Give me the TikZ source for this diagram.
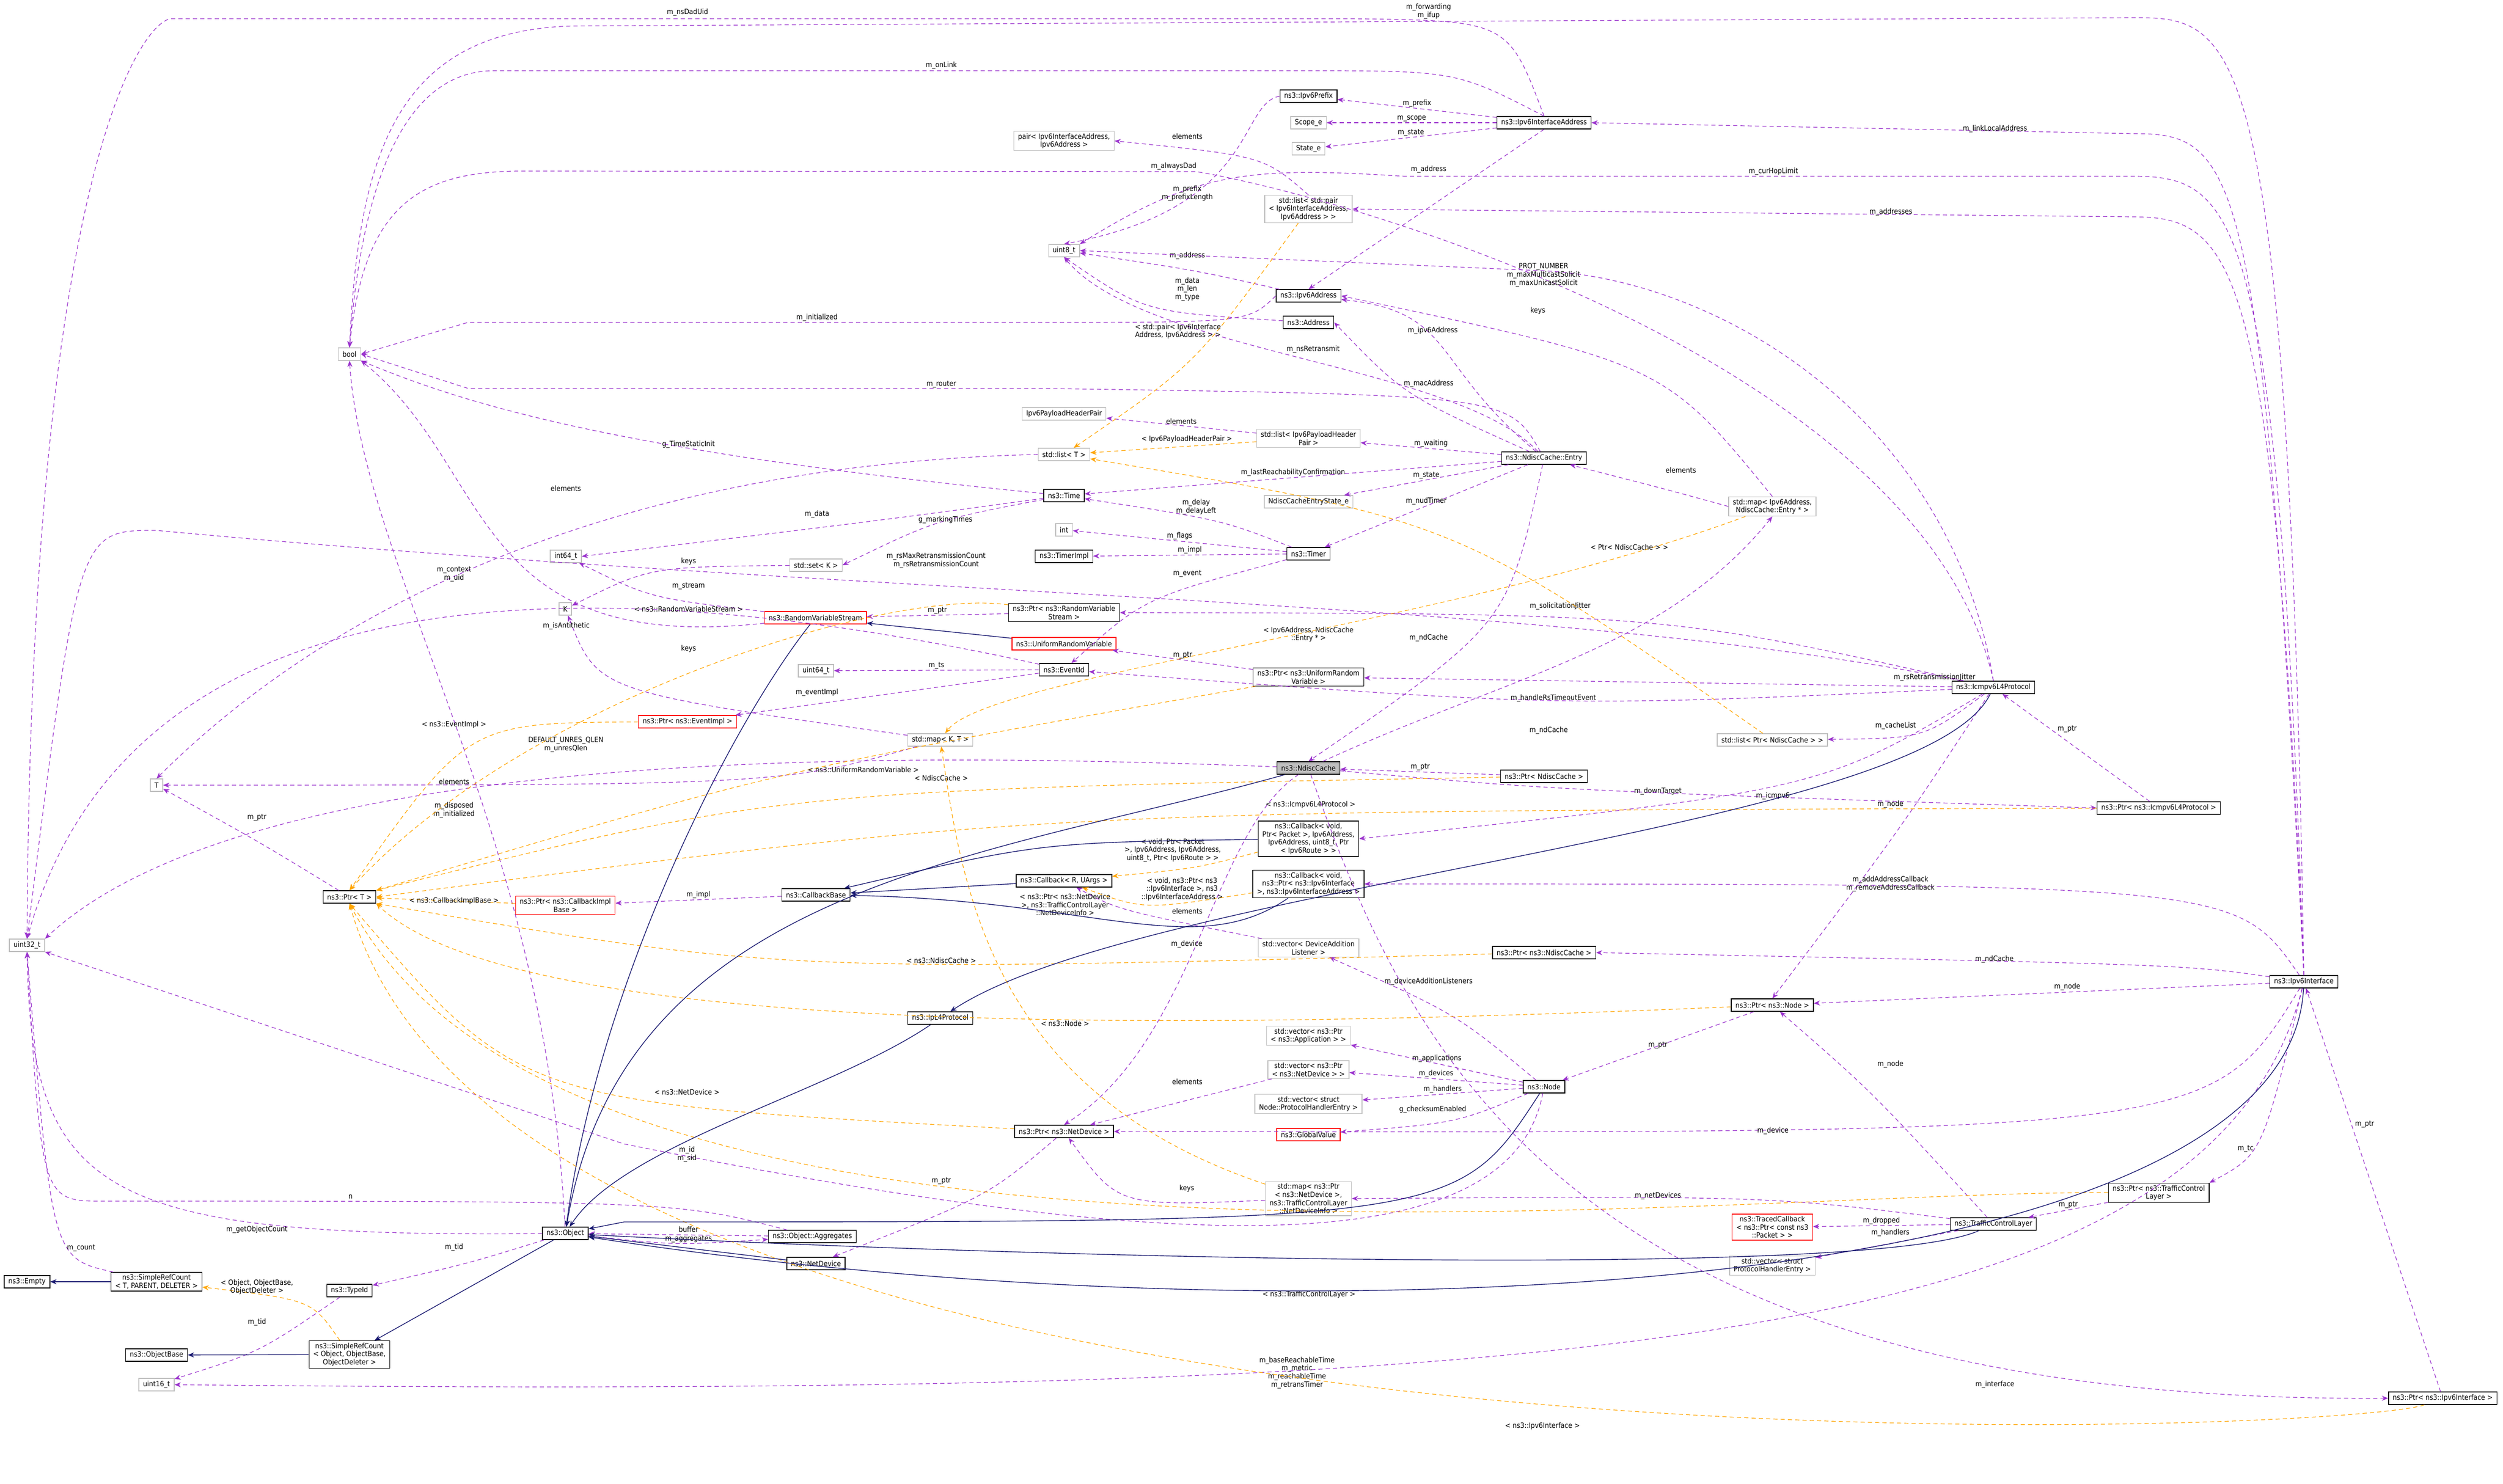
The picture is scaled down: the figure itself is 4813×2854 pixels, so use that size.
\documentclass[tikz,border=0pt]{standalone}
\usepackage{fontspec}
\setmainfont{DejaVu Sans Condensed}
\usetikzlibrary{arrows.meta}
\definecolor{pu}{HTML}{9A32CD}
\definecolor{nv}{HTML}{191970}
\definecolor{og}{HTML}{FFA500}
\definecolor{gb}{HTML}{BFBFBF}
\begin{document}
\begin{tikzpicture}[x=0.25pt,y=-0.25pt,
 bx/.style={draw,rectangle,line width=0.35pt,font=\fontsize{3.5}{3.9}\selectfont,inner xsep=2pt,inner ysep=1pt,minimum height=6pt,align=center},
 cls/.style={bx,draw=black},
 ext/.style={bx,draw=gb},
 rd/.style={bx,draw=red},
 lbl/.style={font=\fontsize{3.5}{3.9}\selectfont,inner sep=0.5pt,align=center},
 pe/.style={draw=pu,dashed,dash pattern=on 2pt off 1.5pt,line width=0.3pt,-{Stealth[length=3pt,width=2.4pt]},fill=none},
 oe/.style={draw=og,dashed,dash pattern=on 2pt off 1.5pt,line width=0.3pt,-{Stealth[length=3pt,width=2.4pt,fill=og]},fill=none},
 be/.style={draw=nv,line width=0.35pt,-{Stealth[length=3pt,width=2.4pt]},fill=none}]
\useasboundingbox (0,0) rectangle (4813,2854);
% nodes
\node[cls] (pfx) at (2516,185) {ns3::Ipv6Prefix};
\node[ext] (scope) at (2516,236) {Scope\_e};
\node[ext] (state) at (2516,286) {State\_e};
\node[cls] (ifa) at (2969,236) {ns3::Ipv6InterfaceAddress};
\node[ext] (pair) at (2046,271) {pair< Ipv6InterfaceAddress,\\Ipv6Address >};
\node[ext] (lpair) at (2516,402) {std::list< std::pair\\< Ipv6InterfaceAddress,\\Ipv6Address > >};
\node[ext] (u8) at (2046,482) {uint8\_t};
\node[cls] (ip6a) at (2516,569) {ns3::Ipv6Address};
\node[cls] (addr) at (2516,620) {ns3::Address};
\node[ext] (bool) at (672,681) {bool};
\node[ext] (php) at (2046,796) {Ipv6PayloadHeaderPair};
\node[ext] (lphp) at (2516,843) {std::list< Ipv6PayloadHeader\\Pair >};
\node[ext] (listT) at (2046,874) {std::list< T >};
\node[cls] (entry) at (2969,881) {ns3::NdiscCache::Entry};
\node[cls] (time) at (2046,953) {ns3::Time};
\node[ext] (nstate) at (2516,965) {NdiscCacheEntryState\_e};
\node[ext] (int) at (2046,1019) {int};
\node[cls] (timer) at (2516,1065) {ns3::Timer};
\node[cls] (timpl) at (2046,1070) {ns3::TimerImpl};
\node[ext] (mapAE) at (3408,974) {std::map< Ipv6Address,\\NdiscCache::Entry * >};
\node[ext] (i64) at (1088,1070) {int64\_t};
\node[ext] (setK) at (1569,1087) {std::set< K >};
\node[ext] (K) at (1087,1171) {K};
\node[rd] (rvs) at (1568,1188) {ns3::RandomVariableStream};
\node[cls] (prvs) at (2046,1178) {ns3::Ptr< ns3::RandomVariable\\Stream >};
\node[rd] (urv) at (2046,1238) {ns3::UniformRandomVariable};
\node[ext] (u64) at (1569,1290) {uint64\_t};
\node[cls] (evid) at (2046,1288) {ns3::EventId};
\node[cls] (purv) at (2516,1302) {ns3::Ptr< ns3::UniformRandom\\Variable >};
\node[cls] (icmp) at (3833,1322) {ns3::Icmpv6L4Protocol};
\node[rd] (pevi) at (1322,1388) {ns3::Ptr< ns3::EventImpl >};
\node[ext] (mapKT) at (1808,1423) {std::map< K, T >};
\node[ext] (lpnc) at (3408,1423) {std::list< Ptr< NdiscCache > >};
\node[ext] (T) at (301,1510) {T};
\node[cls,fill=gb] (nc) at (2516,1477) {ns3::NdiscCache};
\node[cls] (pnc) at (2969,1493) {ns3::Ptr< NdiscCache >};
\node[cls] (picmp) at (4151,1554) {ns3::Ptr< ns3::Icmpv6L4Protocol >};
\node[cls] (cb1) at (2516,1613) {ns3::Callback< void,\\ Ptr< Packet >, Ipv6Address,\\ Ipv6Address, uint8\_t, Ptr\\< Ipv6Route > >};
\node[cls] (ptrT) at (672,1725) {ns3::Ptr< T >};
\node[cls] (cbb) at (1569,1721) {ns3::CallbackBase};
\node[rd] (pcbi) at (1087,1741) {ns3::Ptr< ns3::CallbackImpl\\Base >};
\node[cls] (cbR) at (2046,1694) {ns3::Callback< R, UArgs >};
\node[cls] (cb2) at (2516,1700) {ns3::Callback< void,\\ ns3::Ptr< ns3::Ipv6Interface\\ >, ns3::Ipv6InterfaceAddress >};
\node[ext] (vdal) at (2516,1823) {std::vector< DeviceAddition\\Listener >};
\node[cls] (pnc2) at (2969,1832) {ns3::Ptr< ns3::NdiscCache >};
\node[cls] (i6) at (4430,1888) {ns3::Ipv6Interface};
\node[ext] (u32) at (52,1818) {uint32\_t};
\node[cls] (pnode) at (3408,1933) {ns3::Ptr< ns3::Node >};
\node[cls] (ipl4) at (1808,1958) {ns3::IpL4Protocol};
\node[ext] (vapp) at (2516,1992) {std::vector< ns3::Ptr\\< ns3::Application > >};
\node[ext] (vnd) at (2516,2057) {std::vector< ns3::Ptr\\< ns3::NetDevice > >};
\node[cls] (node) at (2969,2090) {ns3::Node};
\node[ext] (vphe) at (2516,2123) {std::vector< struct\\Node::ProtocolHandlerEntry >};
\node[rd] (gv) at (2516,2182) {ns3::GlobalValue};
\node[cls] (pnd) at (2046,2176) {ns3::Ptr< ns3::NetDevice >};
\node[ext] (mapnd) at (2516,2305) {std::map< ns3::Ptr\\< ns3::NetDevice >,\\ ns3::TrafficControlLayer\\::NetDeviceInfo >};
\node[cls] (ptcl) at (4151,2294) {ns3::Ptr< ns3::TrafficControl\\Layer >};
\node[rd] (traced) at (3408,2360) {ns3::TracedCallback\\< ns3::Ptr< const ns3\\::Packet > >};
\node[cls] (tcl) at (3833,2354) {ns3::TrafficControlLayer};
\node[cls] (obj) at (1087,2372) {ns3::Object};
\node[cls] (agg) at (1562,2378) {ns3::Object::Aggregates};
\node[cls] (nd) at (1569,2430) {ns3::NetDevice};
\node[ext] (vphe2) at (3408,2434) {std::vector< struct\\ProtocolHandlerEntry >};
\node[cls] (empty) at (52,2465) {ns3::Empty};
\node[cls] (src1) at (301,2465) {ns3::SimpleRefCount\\< T, PARENT, DELETER >};
\node[cls] (tid) at (672,2482) {ns3::TypeId};
\node[cls] (ob) at (301,2606) {ns3::ObjectBase};
\node[cls] (src2) at (672,2605) {ns3::SimpleRefCount\\< Object, ObjectBase,\\ObjectDeleter >};
\node[ext] (u16) at (301,2663) {uint16\_t};
\node[cls] (pi6) at (4697,2689) {ns3::Ptr< ns3::Ipv6Interface >};
% purple edges
\path[pe] (ifa.north) .. controls (2900,40) .. (2600,36) -- (330,36) node[lbl,at={(1322,24)}]{m\_nsDadUid} .. controls (280,36) and (60,300) .. (u32.north);
\path[pe] (i6.north) .. controls (4400,40) and (4300,34) .. (4100,34) -- (1100,50) node[lbl,at={(2747,22)}]{m\_forwarding\\m\_ifup} .. controls (760,60) and (690,300) .. (bool.north);
\path[pe] (ifa.north) .. controls (2800,136) .. (2500,136) -- (950,136) node[lbl,at={(1810,126)}]{m\_onLink} .. controls (800,136) and (700,300) .. (bool.north);
\path[pe] (i6.north) .. controls (4350,300) and (4300,257) .. (4100,257) -- (ifa.east) node[lbl,at={(3836,248)}]{m\_linkLocalAddress};
\path[pe] (i6.north) .. controls (4380,400) and (4300,339) .. (4100,339) -- (2700,339) node[lbl,at={(3410,330)}]{m\_curHopLimit} .. controls (2400,320) and (2300,330) .. (u8.north east);
\path[pe] (icmp.north) .. controls (3700,700) and (2600,380) .. (2300,330) node[lbl,at={(2257,320)}]{m\_alwaysDad} -- (1000,329) .. controls (800,330) and (700,400) .. (bool.north);
\path[pe] (i6.north) .. controls (4370,500) and (4300,417) .. (4100,417) -- (lpair.east) node[lbl,at={(3636,408)}]{m\_addresses};
\path[pe] (lpair.north) .. controls (2430,300) .. (pair.east) node[lbl,at={(2283,262)}]{elements};
\path[pe] (ifa) -- (pfx) node[lbl,midway,above]{m\_prefix};
\path[pe] (ifa) -- (scope) node[lbl,midway,above]{m\_scope};
\path[pe] (ifa) -- (state) node[lbl,midway,above]{m\_state};
\path[pe] (ifa.south) -- (ip6a.north) node[lbl,at={(2747,326)}]{m\_address};
\path[pe] (pfx.west) .. controls (2380,200) and (2420,400) .. (u8.north) node[lbl,at={(2283,372)}]{m\_prefix\\m\_prefixLength};
\path[pe] (ip6a) .. controls (2300,520) .. (u8) node[lbl,at={(2283,492)}]{m\_address};
\path[pe] (addr) .. controls (2200,600) .. (u8.south) node[lbl,at={(2283,556)}]{m\_data\\m\_len\\m\_type};
\path[pe] (entry) .. controls (2800,700) and (2200,680) .. (u8.south) node[lbl,at={(2525,672)}]{m\_nsRetransmit};
\path[pe] (icmp.north) .. controls (3750,800) and (3300,530) .. (2950,520) -- (u8.east) node[lbl,at={(2968,529)}]{PROT\_NUMBER\\m\_maxMulticastSolicit\\m\_maxUnicastSolicit};
\path[pe] (entry) .. controls (2750,700) and (2800,600) .. (ip6a) node[lbl,at={(2755,636)}]{m\_ipv6Address};
\path[pe] (mapAE.north) .. controls (3200,700) .. (ip6a.east) node[lbl,at={(2957,598)}]{keys};
\path[pe] (entry) .. controls (2700,760) .. (addr.east) node[lbl,at={(2747,738)}]{m\_macAddress};
\path[pe] (ip6a.west) .. controls (2400,620) .. (2000,620) -- (900,620) node[lbl,at={(1571,611)}]{m\_initialized} -- (bool.east);
\path[pe] (entry) .. controls (2900,760) .. (2000,747) -- (900,747) node[lbl,at={(1810,739)}]{m\_router} -- (bool.east);
\path[pe] (time) .. controls (1200,870) and (900,780) .. (bool.south east) node[lbl,at={(1324,855)}]{g\_TimeStaticInit};
\path[pe] (lphp) -- (php) node[lbl,midway,above]{elements};
\path[pe] (entry) -- (lphp) node[lbl,midway,above]{m\_waiting};
\path[pe] (entry) -- (time) node[lbl,midway,above]{m\_lastReachabilityConfirmation};
\path[pe] (entry) -- (nstate) node[lbl,midway,above]{m\_state};
\path[pe] (entry) -- (timer) node[lbl,midway,above]{m\_nudTimer};
\path[pe] (timer) .. controls (2350,1000) .. (time) node[lbl,at={(2300,975)}]{m\_delay\\m\_delayLeft};
\path[pe] (timer) -- (int) node[lbl,midway,above]{m\_flags};
\path[pe] (timer) -- (timpl) node[lbl,midway,above]{m\_impl};
\path[pe] (timer) .. controls (2200,1150) .. (evid) node[lbl,at={(2283,1103)}]{m\_event};
\path[pe] (listT.west) .. controls (1300,890) and (700,1100) .. (T.north) node[lbl,at={(1088,939)}]{elements};
\path[pe] (time) .. controls (1800,1000) .. (setK.east) node[lbl,at={(1818,1000)}]{g\_markingTimes};
\path[pe] (time) .. controls (1700,1000) .. (i64.east) node[lbl,at={(1571,989)}]{m\_data};
\path[pe] (setK) .. controls (1250,1090) .. (K) node[lbl,at={(1324,1080)}]{keys};
\path[pe] (rvs) .. controls (1250,1150) .. (i64) node[lbl,at={(1324,1127)}]{m\_stream};
\path[pe] (mapKT) .. controls (1150,1330) .. (K) node[lbl,at={(1324,1248)}]{keys};
\path[pe] (rvs) .. controls (900,1260) and (950,900) .. (bool.south east) node[lbl,at={(1089,1204)}]{m\_isAntithetic};
\path[pe] (evid) -- (u64) node[lbl,midway,above]{m\_ts};
\path[pe] (evid) -- (pevi) node[lbl,at={(1571,1332)}]{m\_eventImpl};
\path[pe] (prvs) -- (rvs) node[lbl,midway,above]{m\_ptr};
\path[pe] (purv) -- (urv) node[lbl,midway,above]{m\_ptr};
\path[pe] (evid) .. controls (1100,1080) and (250,1100) .. (u32.north) node[lbl,at={(873,1104)}]{m\_context\\m\_uid};
\path[pe] (icmp) .. controls (3000,1150) and (1700,1150) .. (300,1020) node[lbl,at={(1800,1078)}]{m\_rsMaxRetransmissionCount\\m\_rsRetransmissionCount} .. controls (150,1020) .. (u32.north);
\path[pe] (icmp) .. controls (3200,1180) .. (prvs) node[lbl,at={(3000,1166)}]{m\_solicitationJitter};
\path[pe] (icmp) -- (purv) node[lbl,at={(3720,1303)}]{m\_rsRetransmissionJitter};
\path[pe] (icmp) .. controls (3000,1360) .. (evid) node[lbl,at={(2987,1343)}]{m\_handleRsTimeoutEvent};
\path[pe] (icmp) .. controls (3700,1420) .. (lpnc) node[lbl,at={(3645,1396)}]{m\_cacheList};
\path[pe] (nc) .. controls (2900,1300) and (3200,1250) .. (mapAE.south) node[lbl,at={(2978,1405)}]{m\_ndCache};
\path[pe] (mapAE.west) .. controls (3200,940) .. (entry) node[lbl,at={(3232,904)}]{elements};
\path[pe] (entry) .. controls (2900,1200) .. (nc.north) node[lbl,at={(2747,1227)}]{m\_ndCache};
\path[pe] (pnc) -- (nc) node[lbl,midway,above]{m\_ptr};
\path[pe] (icmp) .. controls (3500,1520) .. (cb1.east) node[lbl,at={(3188,1522)}]{m\_downTarget};
\path[pe] (picmp) -- (icmp) node[lbl,at={(3975,1402)}]{m\_ptr};
\path[pe] (nc) .. controls (3000,1520) .. (picmp.west) node[lbl,at={(3409,1531)}]{m\_icmpv6};
\path[pe] (icmp) .. controls (3650,1600) .. (pnode.north) node[lbl,at={(3635,1547)}]{m\_node};
\path[pe] (i6) .. controls (4300,1700) .. (cb2.east) node[lbl,at={(3635,1700)}]{m\_addAddressCallback\\m\_removeAddressCallback};
\path[pe] (i6) .. controls (4200,1855) .. (pnc2.east) node[lbl,at={(3835,1845)}]{m\_ndCache};
\path[pe] (i6) -- (pnode) node[lbl,at={(3975,1898)}]{m\_node};
\path[pe] (i6) .. controls (4250,2180) .. (pnd.east) node[lbl,at={(3409,2175)}]{m\_device};
\path[pe] (i6) .. controls (4350,2220) .. (ptcl.north east) node[lbl,at={(4318,2209)}]{m\_tc};
\path[pe] (i6) .. controls (4250,2600) and (3000,2690) .. (u16.east) node[lbl,at={(2494,2640)}]{m\_baseReachableTime\\m\_metric\\m\_reachableTime\\m\_retransTimer};
\path[pe] (pi6) -- (i6) node[lbl,at={(4547,2162)}]{m\_ptr};
\path[pe] (nc) .. controls (2700,2000) and (3000,2700) .. (pi6.west) node[lbl,at={(3836,2663)}]{m\_interface};
\path[pe] (tcl) .. controls (3600,2100) .. (pnode) node[lbl,at={(3635,2047)}]{m\_node};
\path[pe] (ptcl) -- (tcl) node[lbl,midway,above]{m\_ptr};
\path[pe] (tcl) -- (traced) node[lbl,midway,above]{m\_dropped};
\path[pe] (tcl) -- (vphe2) node[lbl,at={(3635,2371)}]{m\_handlers};
\path[pe] (tcl) .. controls (3400,2300) .. (mapnd.east) node[lbl,at={(3188,2300)}]{m\_netDevices};
\path[pe] (pnode) -- (node) node[lbl,at={(3188,2010)}]{m\_ptr};
\path[pe] (node) .. controls (2800,1950) .. (vdal) node[lbl,at={(2747,1888)}]{m\_deviceAdditionListeners};
\path[pe] (node) -- (vapp) node[lbl,midway,above]{m\_applications};
\path[pe] (node) -- (vnd) node[lbl,midway,above]{m\_devices};
\path[pe] (node) -- (vphe) node[lbl,midway,above]{m\_handlers};
\path[pe] (node) .. controls (2800,2160) .. (gv) node[lbl,at={(2755,2134)}]{g\_checksumEnabled};
\path[pe] (node) .. controls (2900,2450) and (2200,2400) .. (1200,2200) -- (u32.south east) node[lbl,at={(1321,2220)}]{m\_id\\m\_sid};
\path[pe] (vnd) -- (pnd) node[lbl,at={(2283,2080)}]{elements};
\path[pe] (mapnd) .. controls (2150,2320) .. (pnd) node[lbl,at={(2282,2286)}]{keys};
\path[pe] (vdal) .. controls (2150,1750) .. (cbR) node[lbl,at={(2283,1752)}]{elements};
\path[pe] (pnd) .. controls (1900,2300) .. (nd) node[lbl,at={(1810,2271)}]{m\_ptr};
\path[pe] (nc) .. controls (2330,1600) and (2300,2000) .. (pnd.north) node[lbl,at={(2282,1816)}]{m\_device};
\path[pe] (obj) .. controls (900,2430) .. (tid) node[lbl,at={(873,2399)}]{m\_tid};
\path[pe] (tid) .. controls (500,2600) .. (u16) node[lbl,at={(494,2543)}]{m\_tid};
\path[pe] (obj) .. controls (1300,2395) .. (agg) node[lbl,at={(1324,2383)}]{m\_aggregates};
\path[pe] (agg) -- (obj) node[lbl,at={(1324,2364)}]{buffer};
\path[pe] (agg) .. controls (1300,2310) .. (200,2310) node[lbl,at={(674,2302)}]{n} .. controls (80,2310) .. (u32.south);
\path[pe] (obj) .. controls (200,2380) and (60,2300) .. (u32.south) node[lbl,at={(494,2365)}]{m\_getObjectCount};
\path[pe] (src1) .. controls (100,2420) .. (u32.south) node[lbl,at={(156,2400)}]{m\_count};
\path[pe] (ptrT) .. controls (500,1620) .. (T) node[lbl,at={(494,1572)}]{m\_ptr};
\path[pe] (cbb) -- (pcbi) node[lbl,midway,above]{m\_impl};
\path[pe] (obj) .. controls (1050,1600) and (700,1100) .. (bool.south) node[lbl,at={(873,1558)}]{m\_disposed\\m\_initialized};
\path[pe] (nc) .. controls (1800,1450) and (500,1420) .. (u32.north east) node[lbl,at={(1088,1432)}]{DEFAULT\_UNRES\_QLEN\\m\_unresQlen};
\path[pe] (mapKT) .. controls (1500,1510) .. (T.east) node[lbl,at={(873,1503)}]{elements};
% orange edges
\path[oe] (prvs) .. controls (1700,1130) and (1000,1350) .. (ptrT.north) node[lbl,at={(1324,1171)}]{< ns3::RandomVariableStream >};
\path[oe] (pevi) .. controls (900,1390) .. (ptrT.north) node[lbl,at={(873,1394)}]{< ns3::EventImpl >};
\path[oe] (purv) .. controls (1500,1480) .. (ptrT.north east) node[lbl,at={(1660,1480)}]{< ns3::UniformRandomVariable >};
\path[oe] (pnc) .. controls (1500,1520) .. (ptrT.north east) node[lbl,at={(1810,1496)}]{< NdiscCache >};
\path[oe] (picmp) .. controls (2000,1560) .. (ptrT.east) node[lbl,at={(2520,1548)}]{< ns3::Icmpv6L4Protocol >};
\path[oe] (pcbi) -- (ptrT) node[lbl,at={(873,1733)}]{< ns3::CallbackImplBase >};
\path[oe] (pnc2) .. controls (1500,1870) .. (ptrT.south east) node[lbl,at={(1810,1847)}]{< ns3::NdiscCache >};
\path[oe] (pnode) .. controls (2300,1980) and (1000,2000) .. (ptrT.south east) node[lbl,at={(2048,1968)}]{< ns3::Node >};
\path[oe] (pnd) .. controls (1000,2120) .. (ptrT.south) node[lbl,at={(1321,2100)}]{< ns3::NetDevice >};
\path[oe] (ptcl) .. controls (3300,2290) and (1100,2550) .. (ptrT.south) node[lbl,at={(2517,2490)}]{< ns3::TrafficControlLayer >};
\path[oe] (pi6) .. controls (4500,2760) and (1000,2900) .. (ptrT.south) node[lbl,at={(2966,2743)}]{< ns3::Ipv6Interface >};
\path[oe] (src2) .. controls (600,2500) .. (src1) node[lbl,at={(494,2475)}]{< Object, ObjectBase,\\ObjectDeleter >};
\path[oe] (mapAE) .. controls (2800,1200) and (1900,1300) .. (mapKT) node[lbl,at={(2516,1220)}]{< Ipv6Address, NdiscCache\\::Entry * >};
\path[oe] (mapnd) .. controls (1900,2100) and (1850,1700) .. (mapKT) node[lbl,at={(2048,1740)}]{< ns3::Ptr< ns3::NetDevice\\>, ns3::TrafficControlLayer\\::NetDeviceInfo >};
\path[oe] (cb1) .. controls (2300,1670) .. (cbR) node[lbl,at={(2255,1635)}]{< void, Ptr< Packet\\>, Ipv6Address, Ipv6Address,\\uint8\_t, Ptr< Ipv6Route > >};
\path[oe] (cb2) .. controls (2200,1750) .. (cbR) node[lbl,at={(2273,1710)}]{< void, ns3::Ptr< ns3\\::Ipv6Interface >, ns3\\::Ipv6InterfaceAddress >};
\path[oe] (lpair) .. controls (2300,700) .. (listT) node[lbl,at={(2265,637)}]{< std::pair< Ipv6Interface\\Address, Ipv6Address > >};
\path[oe] (lphp) -- (listT) node[lbl,at={(2282,845)}]{< Ipv6PayloadHeaderPair >};
\path[oe] (lpnc) .. controls (2800,1000) .. (listT) node[lbl,at={(3133,1052)}]{< Ptr< NdiscCache > >};
% inheritance
\path[be] (urv) -- (rvs);
\path[be] (rvs) .. controls (1400,1400) and (1150,1900) .. (obj);
\path[be] (nc) .. controls (1900,1650) and (1200,1700) .. (obj);
\path[be] (icmp) .. controls (3700,1600) and (2200,1700) .. (ipl4);
\path[be] (ipl4) .. controls (1600,2100) and (1200,2200) .. (obj);
\path[be] (cbR) -- (cbb);
\path[be] (cb1) .. controls (2000,1620) .. (cbb);
\path[be] (cb2) .. controls (2300,1850) and (2100,1730) .. (cbb);
\path[be] (node) .. controls (2800,2350) .. (1200,2350) -- (obj);
\path[be] (nd) -- (obj);
\path[be] (tcl) .. controls (3600,2460) and (2000,2420) .. (obj);
\path[be] (i6) .. controls (4400,2500) and (2500,2590) .. (obj);
\path[be] (obj) -- (src2);
\path[be] (src1) -- (empty);
\path[be] (src2) -- (ob);
\end{tikzpicture}
\end{document}
